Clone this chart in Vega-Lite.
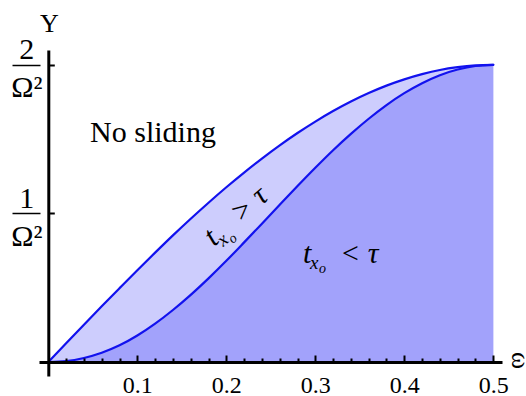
{
  "$schema": "https://vega.github.io/schema/vega-lite/v6.json",
  "width": 463,
  "height": 326,
  "autosize": {"type": "none"},
  "padding": {"left": 39, "top": 50, "right": 24, "bottom": 20},
  "background": "white",
  "config": {"view": {"stroke": null}, "text": {"font": "Liberation Serif, Times New Roman, serif", "color": "black"}},
  "datasets": {
    "curves": [
      {"x": 0.00, "y": 0.000, "curve": "upper"},
      {"x": 0.02, "y": 0.126, "curve": "upper"},
      {"x": 0.04, "y": 0.251, "curve": "upper"},
      {"x": 0.06, "y": 0.375, "curve": "upper"},
      {"x": 0.08, "y": 0.497, "curve": "upper"},
      {"x": 0.10, "y": 0.618, "curve": "upper"},
      {"x": 0.12, "y": 0.736, "curve": "upper"},
      {"x": 0.14, "y": 0.852, "curve": "upper"},
      {"x": 0.16, "y": 0.964, "curve": "upper"},
      {"x": 0.18, "y": 1.072, "curve": "upper"},
      {"x": 0.20, "y": 1.176, "curve": "upper"},
      {"x": 0.22, "y": 1.275, "curve": "upper"},
      {"x": 0.24, "y": 1.369, "curve": "upper"},
      {"x": 0.26, "y": 1.458, "curve": "upper"},
      {"x": 0.28, "y": 1.541, "curve": "upper"},
      {"x": 0.30, "y": 1.618, "curve": "upper"},
      {"x": 0.32, "y": 1.689, "curve": "upper"},
      {"x": 0.34, "y": 1.753, "curve": "upper"},
      {"x": 0.36, "y": 1.810, "curve": "upper"},
      {"x": 0.38, "y": 1.860, "curve": "upper"},
      {"x": 0.40, "y": 1.902, "curve": "upper"},
      {"x": 0.42, "y": 1.937, "curve": "upper"},
      {"x": 0.44, "y": 1.965, "curve": "upper"},
      {"x": 0.46, "y": 1.984, "curve": "upper"},
      {"x": 0.48, "y": 1.996, "curve": "upper"},
      {"x": 0.50, "y": 2.000, "curve": "upper"},
      {"x": 0.00, "y": 0.000, "curve": "lower"},
      {"x": 0.02, "y": 0.006, "curve": "lower"},
      {"x": 0.04, "y": 0.027, "curve": "lower"},
      {"x": 0.06, "y": 0.062, "curve": "lower"},
      {"x": 0.08, "y": 0.112, "curve": "lower"},
      {"x": 0.10, "y": 0.178, "curve": "lower"},
      {"x": 0.12, "y": 0.258, "curve": "lower"},
      {"x": 0.14, "y": 0.350, "curve": "lower"},
      {"x": 0.16, "y": 0.452, "curve": "lower"},
      {"x": 0.18, "y": 0.563, "curve": "lower"},
      {"x": 0.20, "y": 0.681, "curve": "lower"},
      {"x": 0.22, "y": 0.805, "curve": "lower"},
      {"x": 0.24, "y": 0.931, "curve": "lower"},
      {"x": 0.26, "y": 1.058, "curve": "lower"},
      {"x": 0.28, "y": 1.184, "curve": "lower"},
      {"x": 0.30, "y": 1.307, "curve": "lower"},
      {"x": 0.32, "y": 1.425, "curve": "lower"},
      {"x": 0.34, "y": 1.535, "curve": "lower"},
      {"x": 0.36, "y": 1.637, "curve": "lower"},
      {"x": 0.38, "y": 1.729, "curve": "lower"},
      {"x": 0.40, "y": 1.809, "curve": "lower"},
      {"x": 0.42, "y": 1.876, "curve": "lower"},
      {"x": 0.44, "y": 1.930, "curve": "lower"},
      {"x": 0.46, "y": 1.968, "curve": "lower"},
      {"x": 0.48, "y": 1.992, "curve": "lower"},
      {"x": 0.50, "y": 2.000, "curve": "lower"}
    ],
    "nosliding": [{"x": 0.0469, "y": 1.4825, "label": "No sliding"}],
    "rot": [{"x": 0.1862, "y": 0.774}],
    "hor": [{"x": 0.2862, "y": 0.664}]
  },
  "data": {"name": "curves"},
  "resolve": {"axis": {"x": "independent", "y": "independent"}},
  "encoding": {
    "y": {
      "field": "y",
      "type": "quantitative",
      "scale": {"domain": [-0.0942, 2.0996], "nice": false, "zero": false},
      "axis": null
    }
  },
  "layer": [
    {
      "transform": [{"filter": "datum.curve == 'upper'"}],
      "mark": {"type": "area", "color": "#cdcdfd", "interpolate": "monotone", "opacity": 1},
      "encoding": {
        "x": {
          "field": "x",
          "type": "quantitative",
          "scale": {"domain": [-0.0105, 0.5098], "nice": false, "zero": false},
          "axis": {
            "orient": "bottom",
            "offset": -14,
            "zindex": 1,
            "grid": false,
            "values": [0.1, 0.2, 0.3, 0.4, 0.5],
            "format": ".1f",
            "domainColor": "black",
            "domainWidth": 3,
            "tickColor": "black",
            "tickWidth": 2,
            "tickSize": -7,
            "labelFont": "Liberation Serif, Times New Roman, serif",
            "labelFontSize": 24,
            "labelColor": "black",
            "labelPadding": 18,
            "labelOverlap": false,
            "labelFlush": false,
            "labelBound": false,
            "title": "ω",
            "titleX": 480,
            "titleY": -2,
            "titleAngle": 90,
            "titleAlign": "center",
            "titleBaseline": "middle",
            "titleFont": "Liberation Serif, Times New Roman, serif",
            "titleFontSize": 26,
            "titleFontWeight": "normal",
            "titleColor": "black"
          }
        },
        "y": {
          "field": "y",
          "type": "quantitative",
          "scale": {"domain": [-0.0942, 2.0996], "nice": false, "zero": false},
          "axis": {
            "orient": "left",
            "offset": -9.3,
            "zindex": 1,
            "grid": false,
            "values": [1, 2],
            "labelExpr": "[format(datum.value, 'd'), 'Ω²']",
            "labelLineHeight": 38,
            "labelFont": "Liberation Serif, Times New Roman, serif",
            "labelFontSize": 30,
            "labelColor": "black",
            "labelAlign": "center",
            "labelBaseline": "middle",
            "labelOffset": -15,
            "labelPadding": 28,
            "labelOverlap": false,
            "labelFlush": false,
            "labelBound": false,
            "domainColor": "black",
            "domainWidth": 3,
            "tickColor": "black",
            "tickWidth": 2,
            "tickSize": -6,
            "title": "Υ",
            "titleX": 0.5,
            "titleY": -18.3,
            "titleAngle": 0,
            "titleAlign": "center",
            "titleBaseline": "alphabetic",
            "titleFont": "Liberation Serif, Times New Roman, serif",
            "titleFontSize": 26,
            "titleFontWeight": "normal",
            "titleColor": "black"
          }
        },
        "y2": {"datum": 0}
      }
    },
    {
      "transform": [{"filter": "datum.curve == 'lower'"}],
      "mark": {"type": "area", "color": "#a2a2fb", "interpolate": "monotone", "opacity": 1},
      "encoding": {
        "x": {
          "field": "x",
          "type": "quantitative",
          "scale": {"domain": [-0.0105, 0.5098], "nice": false, "zero": false},
          "axis": {
            "orient": "bottom",
            "offset": -14,
            "zindex": 1,
            "grid": false,
            "domain": false,
            "labels": false,
            "title": null,
            "values": [0.02, 0.04, 0.06, 0.08, 0.12, 0.14, 0.16, 0.18, 0.22, 0.24, 0.26, 0.28, 0.32, 0.34, 0.36, 0.38, 0.42, 0.44, 0.46, 0.48],
            "tickColor": "black",
            "tickWidth": 2,
            "tickSize": -4
          }
        },
        "y": {
          "field": "y",
          "type": "quantitative",
          "scale": {"domain": [-0.0942, 2.0996], "nice": false, "zero": false},
          "axis": {
            "orient": "left",
            "offset": -1,
            "zindex": 1,
            "grid": false,
            "domain": false,
            "labels": false,
            "title": null,
            "values": [1, 2],
            "tickColor": "black",
            "tickWidth": 1.5,
            "tickSize": 28
          }
        },
        "y2": {"datum": 0}
      }
    },
    {
      "mark": {"type": "line", "color": "#1212ee", "strokeWidth": 2.2, "interpolate": "monotone", "strokeCap": "round"},
      "encoding": {
        "x": {"field": "x", "type": "quantitative", "scale": {"domain": [-0.0105, 0.5098], "nice": false, "zero": false}, "axis": null},
        "detail": {"field": "curve"}
      }
    },
    {
      "data": {"name": "nosliding"},
      "mark": {"type": "text", "fontSize": 30, "align": "left", "baseline": "alphabetic", "font": "Liberation Serif, Times New Roman, serif"},
      "encoding": {
        "x": {"field": "x", "type": "quantitative", "scale": {"domain": [-0.0105, 0.5098], "nice": false, "zero": false}, "axis": null},
        "text": {"field": "label"}
      }
    },
    {
      "data": {"name": "rot"},
      "mark": {"type": "text", "fontSize": 30, "fontStyle": "italic", "align": "left", "baseline": "alphabetic", "angle": -41},
      "encoding": {
        "x": {"field": "x", "type": "quantitative", "scale": {"domain": [-0.0105, 0.5098], "nice": false, "zero": false}, "axis": null},
        "text": {"value": "t"}
      }
    },
    {
      "data": {"name": "rot"},
      "mark": {"type": "text", "fontSize": 19, "fontStyle": "italic", "align": "left", "baseline": "alphabetic", "angle": -41, "dx": 7, "dy": 6},
      "encoding": {
        "x": {"field": "x", "type": "quantitative", "scale": {"domain": [-0.0105, 0.5098], "nice": false, "zero": false}, "axis": null},
        "text": {"value": "x"}
      }
    },
    {
      "data": {"name": "rot"},
      "mark": {"type": "text", "fontSize": 14, "fontStyle": "italic", "align": "left", "baseline": "alphabetic", "angle": -41, "dx": 16, "dy": 10},
      "encoding": {
        "x": {"field": "x", "type": "quantitative", "scale": {"domain": [-0.0105, 0.5098], "nice": false, "zero": false}, "axis": null},
        "text": {"value": "o"}
      }
    },
    {
      "data": {"name": "rot"},
      "mark": {"type": "text", "fontSize": 30, "fontStyle": "italic", "align": "left", "baseline": "alphabetic", "angle": -41, "dx": 35},
      "encoding": {
        "x": {"field": "x", "type": "quantitative", "scale": {"domain": [-0.0105, 0.5098], "nice": false, "zero": false}, "axis": null},
        "text": {"value": "> τ"}
      }
    },
    {
      "data": {"name": "hor"},
      "mark": {"type": "text", "fontSize": 30, "fontStyle": "italic", "align": "left", "baseline": "alphabetic"},
      "encoding": {
        "x": {"field": "x", "type": "quantitative", "scale": {"domain": [-0.0105, 0.5098], "nice": false, "zero": false}, "axis": null},
        "text": {"value": "t"}
      }
    },
    {
      "data": {"name": "hor"},
      "mark": {"type": "text", "fontSize": 19, "fontStyle": "italic", "align": "left", "baseline": "alphabetic", "dx": 7, "dy": 6},
      "encoding": {
        "x": {"field": "x", "type": "quantitative", "scale": {"domain": [-0.0105, 0.5098], "nice": false, "zero": false}, "axis": null},
        "text": {"value": "x"}
      }
    },
    {
      "data": {"name": "hor"},
      "mark": {"type": "text", "fontSize": 14, "fontStyle": "italic", "align": "left", "baseline": "alphabetic", "dx": 16, "dy": 10},
      "encoding": {
        "x": {"field": "x", "type": "quantitative", "scale": {"domain": [-0.0105, 0.5098], "nice": false, "zero": false}, "axis": null},
        "text": {"value": "o"}
      }
    },
    {
      "data": {"name": "hor"},
      "mark": {"type": "text", "fontSize": 30, "fontStyle": "italic", "align": "left", "baseline": "alphabetic", "dx": 37},
      "encoding": {
        "x": {"field": "x", "type": "quantitative", "scale": {"domain": [-0.0105, 0.5098], "nice": false, "zero": false}, "axis": null},
        "text": {"value": "< τ"}
      }
    }
  ]
}
